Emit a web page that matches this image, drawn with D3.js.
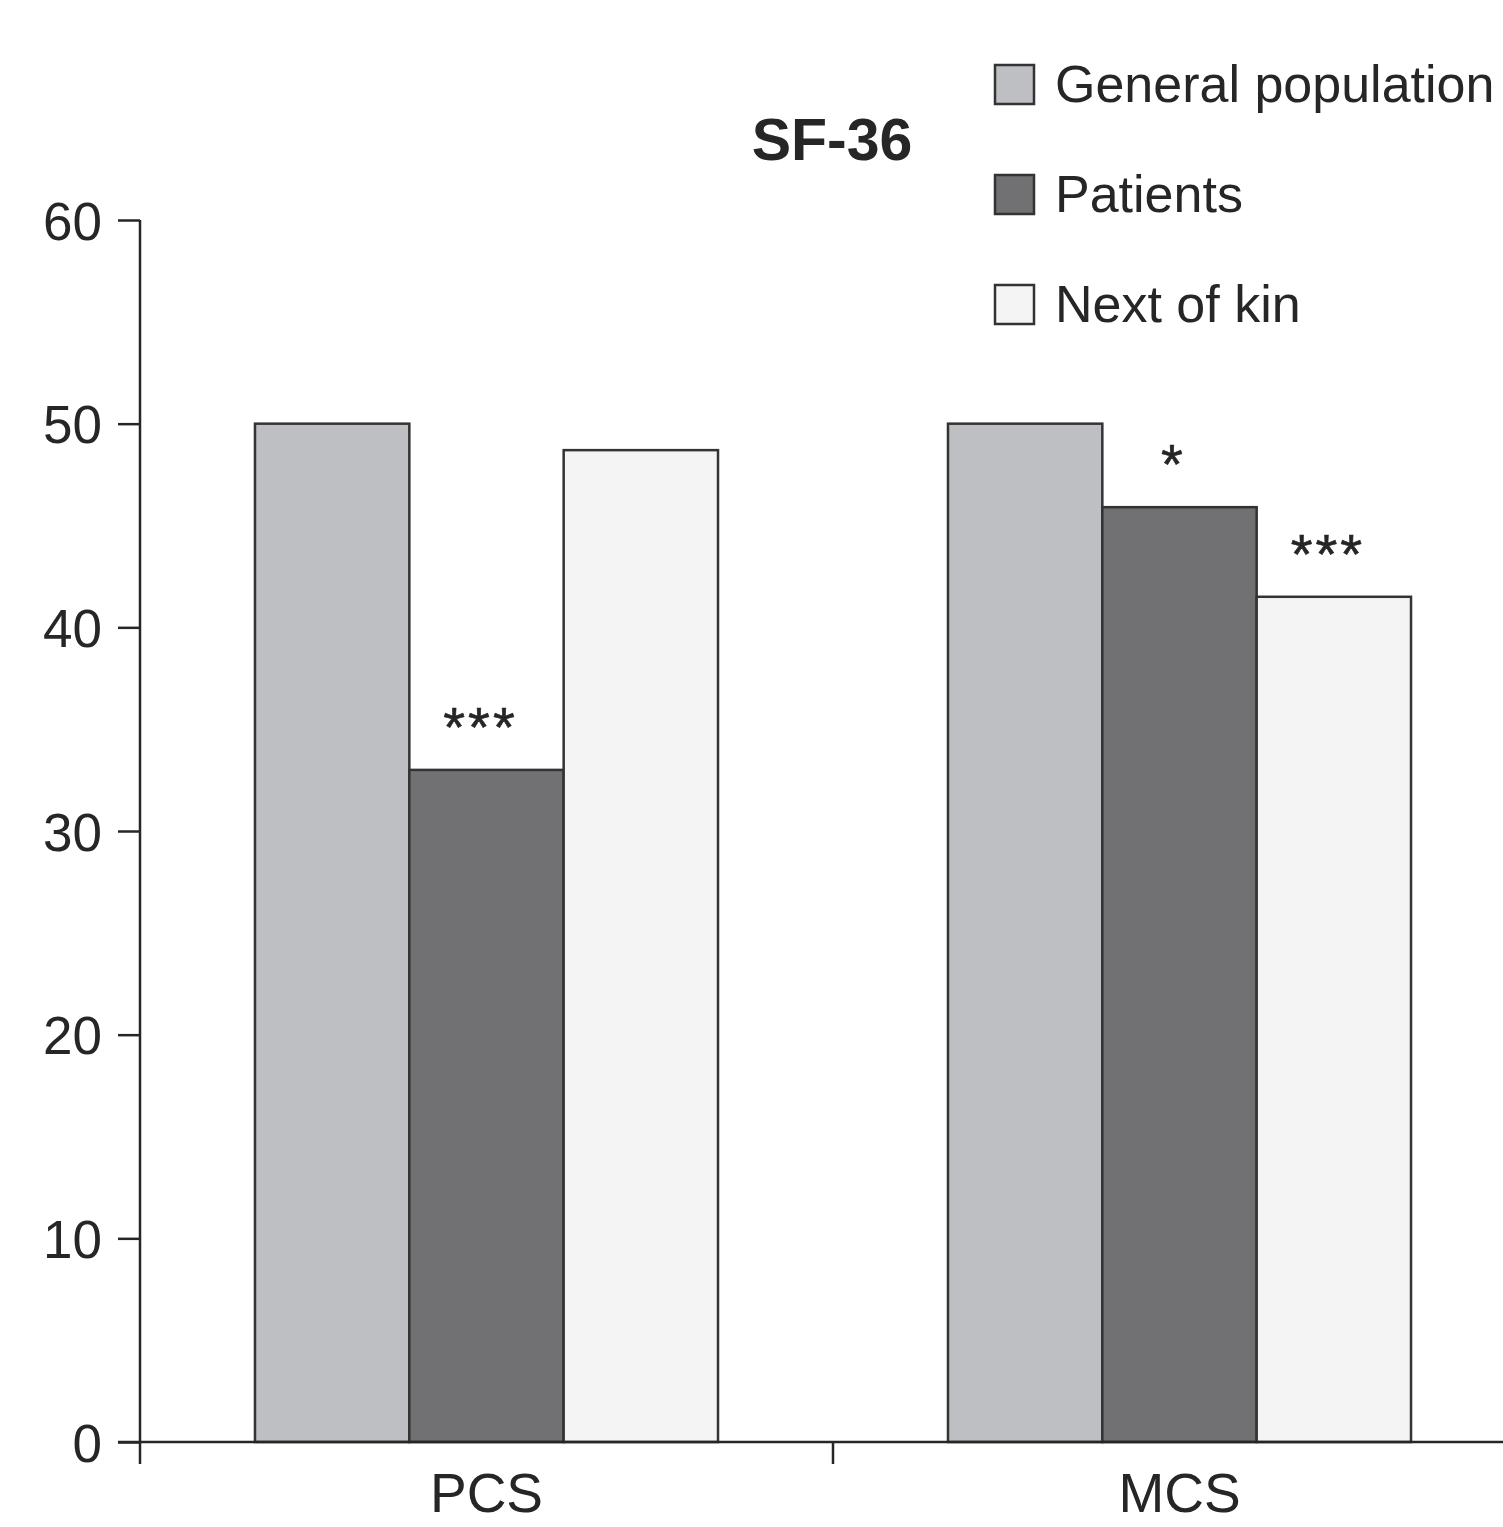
<!DOCTYPE html>
<html><head><meta charset="utf-8">
<script src="https://cdn.jsdelivr.net/npm/d3@7"></script>
<style>html,body{margin:0;padding:0;background:#fff;overflow:hidden}</style>
</head><body>
<svg id="c" width="1503" height="1527"></svg>
<script>
const categories = ["PCS", "MCS"];
const seriesNames = ["General population", "Patients", "Next of kin"];
const generalPopulation = [50, 50];
const patients = [33, 45.9];
const nextOfKin = [48.7, 41.5];
const significance = [["", "***", ""], ["", "*", "***"]];
const yTicks = [0, 10, 20, 30, 40, 50, 60];
const title = "SF-36";
const colors = ["#bebfc3", "#717173", "#f4f4f4"];

const values = [generalPopulation, patients, nextOfKin];
const svg = d3.select("#c");
const font = "'Liberation Sans', Arial, Helvetica, sans-serif";
const ink = "#262626";

const y = d3.scaleLinear().domain([0, 60]).range([1442, 220]);
const x0 = d3.scaleBand().domain(categories).range([140, 1526]).paddingInner(0).paddingOuter(0);
const x1 = d3.scaleBand().domain(seriesNames).range([0, x0.bandwidth()]).paddingInner(0).paddingOuter(0.745);

// bars
const data = [];
categories.forEach((c, ci) => seriesNames.forEach((s, si) => data.push({c, s, si, v: values[si][ci], sig: significance[ci][si]})));

svg.append("g").selectAll("rect").data(data).join("rect")
  .attr("x", d => x0(d.c) + x1(d.s))
  .attr("y", d => y(d.v))
  .attr("width", x1.bandwidth())
  .attr("height", d => y(0) - y(d.v))
  .attr("fill", d => colors[d.si])
  .attr("stroke", "#333")
  .attr("stroke-width", 2.5);

// significance stars
svg.append("g").selectAll("text").data(data.filter(d => d.sig)).join("text")
  .attr("x", d => x0(d.c) + x1(d.s) + x1.bandwidth() / 2 - 6)
  .attr("y", d => y(d.v) - 24)
  .attr("text-anchor", "middle")
  .attr("font-family", font).attr("font-size", 56)
  .attr("letter-spacing", 3)
  .attr("stroke", ink).attr("stroke-width", 0.6)
  .attr("fill", ink)
  .text(d => d.sig);

// y axis
const yAxis = svg.append("g").attr("transform", "translate(140,0)")
  .call(d3.axisLeft(y).tickValues(yTicks).tickSize(22).tickPadding(16).tickFormat(d3.format("d")));
yAxis.select(".domain").attr("d", `M0,${y(60)}V${y(0)}`).attr("stroke", ink).attr("stroke-width", 2.5);
yAxis.selectAll(".tick line").attr("stroke", ink).attr("stroke-width", 2.5);
yAxis.selectAll(".tick text").attr("font-family", font).attr("font-size", 53).attr("fill", ink).attr("dy", "0.36em");

// x axis
const xAxis = svg.append("g").attr("transform", `translate(0,${y(0)})`)
  .call(d3.axisBottom(x0).tickSize(0).tickPadding(30));
xAxis.select(".domain").attr("d", `M118,0H1526`).attr("stroke", ink).attr("stroke-width", 2.5);
xAxis.selectAll(".tick text").attr("font-family", font).attr("font-size", 55).attr("fill", ink).attr("dy", "0.72em");
// boundary ticks
const bounds = categories.map(c => x0(c)).concat([x0.range()[1]]);
xAxis.append("g").selectAll("line").data(bounds).join("line")
  .attr("x1", d => d).attr("x2", d => d).attr("y1", 0).attr("y2", 22)
  .attr("stroke", ink).attr("stroke-width", 2.5);

// title
svg.append("text").attr("x", 832).attr("y", 160).attr("text-anchor", "middle")
  .attr("font-family", font).attr("font-weight", "bold").attr("font-size", 59).attr("fill", ink)
  .text(title);

// legend
const lg = svg.append("g").attr("transform", "translate(995,65)");
const li = lg.selectAll("g").data(seriesNames).join("g").attr("transform", (d, i) => `translate(0,${i * 110})`);
li.append("rect").attr("width", 39).attr("height", 39)
  .attr("fill", (d, i) => colors[i]).attr("stroke", "#333").attr("stroke-width", 2.5);
li.append("text").attr("x", 60).attr("y", 37)
  .attr("font-family", font).attr("font-size", 52).attr("fill", ink).text(d => d);
</script>
</body></html>
